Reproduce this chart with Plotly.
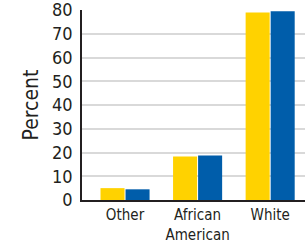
import plotly.graph_objects as go

categories = ["Other", "African<br>American", "White"]
series_a = [5.0, 18.3, 79.0]
series_b = [4.5, 18.7, 79.5]
y_ticks = [0, 10, 20, 30, 40, 50, 60, 70, 80]

FONT = "DejaVu Sans Condensed, Liberation Sans Narrow, sans-serif"

fig = go.Figure()
fig.add_trace(go.Bar(x=categories, y=series_a, marker_color="#FFD200", marker_line_width=0))
fig.add_trace(go.Bar(x=categories, y=series_b, marker_color="#005DAA", marker_line_width=0))

fig.update_layout(
    width=305, height=243,
    margin=dict(l=82, r=0, t=10, b=43, autoexpand=False),
    paper_bgcolor="white", plot_bgcolor="white",
    showlegend=False,
    barmode="group", bargap=0.31, bargroupgap=0.04,
    font=dict(family=FONT, color="#231f20"),
)
fig.update_xaxes(
    range=[-0.593, 2.48], automargin=False,
    showline=True, linecolor="#231f20", linewidth=2,
    ticks="", tickfont=dict(size=15, family=FONT, color="#231f20"),
    showgrid=False,
)
fig.update_yaxes(
    range=[0, 80], tickvals=y_ticks, automargin=False,
    showline=True, linecolor="#231f20", linewidth=1.5,
    showgrid=True, gridcolor="#d9d9d9", gridwidth=1.5,
    ticks="", ticklabelstandoff=4, ticklabeloverflow="allow",
    tickfont=dict(size=18, family=FONT, color="#231f20"),
    title=dict(text="Percent", font=dict(size=21, family=FONT, color="#231f20"), standoff=8),
    zeroline=False,
)
fig.write_html(
    "out.html",
    config={"displayModeBar": False},
    post_script="document.body.style.margin='0';document.body.style.overflow='hidden';",
)
